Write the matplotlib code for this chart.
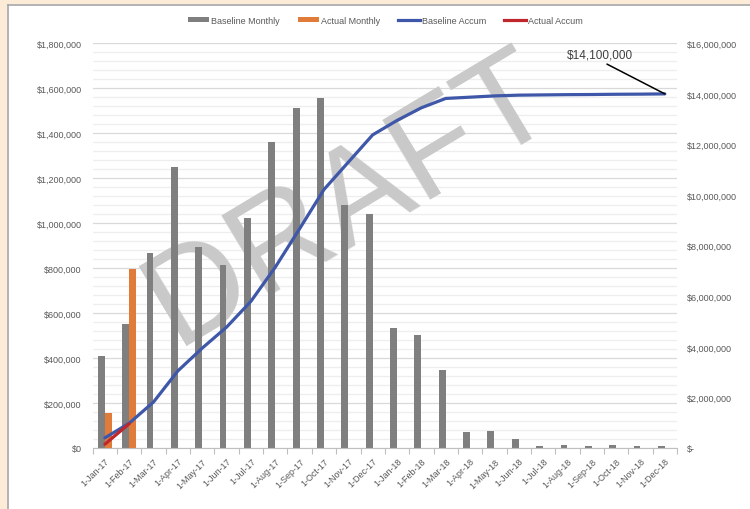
import matplotlib.pyplot as plt
import numpy as np
from matplotlib.patches import Rectangle, Patch
from matplotlib.lines import Line2D
from matplotlib.ticker import FuncFormatter, MultipleLocator

plt.rcParams['font.family'] = ['Liberation Sans', 'DejaVu Sans']

## ======= Data

months = ['1-Jan-17', '1-Feb-17', '1-Mar-17', '1-Apr-17', '1-May-17', '1-Jun-17',
          '1-Jul-17', '1-Aug-17', '1-Sep-17', '1-Oct-17', '1-Nov-17', '1-Dec-17',
          '1-Jan-18', '1-Feb-18', '1-Mar-18', '1-Apr-18', '1-May-18', '1-Jun-18',
          '1-Jul-18', '1-Aug-18', '1-Sep-18', '1-Oct-18', '1-Nov-18', '1-Dec-18']

baseline_monthly = [410000, 550000, 867000, 1250000, 893000, 816000,
                    1025000, 1359000, 1511000, 1557000, 1083000, 1040000,
                    532000, 501000, 345000, 70000, 74000, 39000,
                    7500, 12000, 8000, 12000, 8000, 8000]

actual_monthly = [155000, 795000]

baseline_accum = [400000, 980000, 1820000, 3050000, 3950000, 4780000,
                  5800000, 7150000, 8670000, 10220000, 11300000, 12380000,
                  12950000, 13450000, 13820000, 13870000, 13920000, 13950000,
                  13960000, 13970000, 13975000, 13985000, 13990000, 14000000]

actual_accum = [150000, 960000]

annotation_text = '$14,100,000'

# colours
c_base = '#7f7f7f'
c_actual = '#e07b39'
c_base_line = '#3f57a8'
c_actual_line = '#c0272d'
c_label = '#595959'

fig = plt.figure(figsize=(7.5, 5.1), dpi=100)
fig.patch.set_facecolor('white')

# beige surround + thin border (chart is embedded in a sheet)
beige = '#fbebd7'
fig.patches.append(Rectangle((0, 0), 7 / 750, 1, transform=fig.transFigure,
                             facecolor=beige, edgecolor='none', zorder=0))
fig.patches.append(Rectangle((0, 1 - 5 / 510), 1, 5 / 510, transform=fig.transFigure,
                             facecolor=beige, edgecolor='none', zorder=0))
fig.lines.append(Line2D([7.5 / 750, 7.5 / 750], [0, 1 - 5.5 / 510], transform=fig.transFigure,
                        color='#a6a6a6', lw=1.2))
fig.lines.append(Line2D([7.5 / 750, 1], [1 - 5.5 / 510, 1 - 5.5 / 510], transform=fig.transFigure,
                        color='#a6a6a6', lw=1.2))

ax = fig.add_axes([92.7 / 750, 1 - 449 / 510, 584.3 / 750, 404.7 / 510])
ax2 = ax.twinx()

x = np.arange(len(months))

# bars (left axis)
ax.bar(x - 0.145, baseline_monthly, width=0.28, color=c_base, zorder=2)
ax.bar(x[:len(actual_monthly)] + 0.145, actual_monthly, width=0.28, color=c_actual, zorder=2)

ax.set_xlim(-0.5, len(months) - 0.5)
ax.set_ylim(0, 1800000)
ax.yaxis.set_major_locator(MultipleLocator(200000))
ax.yaxis.set_minor_locator(MultipleLocator(40000))
ax.set_axisbelow(True)
ax.grid(True, which='major', axis='y', color='#d9d9d9', lw=0.9, zorder=0)
ax.grid(True, which='minor', axis='y', color='#eeeeee', lw=0.9, zorder=0)
ax.yaxis.set_major_formatter(FuncFormatter(lambda v, p: '$0' if v == 0 else '${:,.0f}'.format(v)))

ax.set_xticks(x)
ax.set_xticklabels(months, rotation=45, ha='right', va='top', rotation_mode='anchor',
                   fontsize=6.5, color=c_label)
ax.set_xticks(np.arange(len(months) + 1) - 0.5, minor=True)
ax.tick_params(axis='x', which='major', length=0, pad=6)
ax.tick_params(axis='x', which='minor', length=4, color='#bfbfbf', width=0.8)
ax.tick_params(axis='y', which='both', length=0, pad=8, labelsize=6.5, labelcolor=c_label)

for s in ['top', 'left', 'right']:
    ax.spines[s].set_visible(False)
ax.spines['bottom'].set_color('#bfbfbf')
ax.spines['bottom'].set_linewidth(0.8)

# watermark (behind the bars)
ax.text(0.44, 0.615, 'DRAFT', transform=ax.transAxes, rotation=31, fontsize=97,
        color='#c9c9c9', ha='center', va='center', zorder=1.5)

# accumulated lines (right axis)
ax2.plot(x, baseline_accum, color=c_base_line, lw=2.3, solid_capstyle='round', zorder=3)
ax2.plot(x[:len(actual_accum)], actual_accum, color=c_actual_line, lw=2.3,
         solid_capstyle='round', zorder=4)
ax2.set_ylim(0, 16000000)
ax2.yaxis.set_major_locator(MultipleLocator(2000000))
ax2.yaxis.set_major_formatter(FuncFormatter(lambda v, p: '$-' if v == 0 else '${:,.0f}'.format(v)))
ax2.tick_params(axis='y', length=0, pad=7, labelsize=6.5, labelcolor=c_label)
for s in ax2.spines.values():
    s.set_visible(False)

ax2.annotate(annotation_text, xy=(x[-1], baseline_accum[-1]), xytext=(20.35, 15.55e6),
             fontsize=8.5, color='#404040', ha='center', va='center',
             arrowprops=dict(arrowstyle='-', color='black', lw=1.1, relpos=(0.5, 0),
                             shrinkA=1, shrinkB=0))

# legend
handles = [Patch(facecolor=c_base), Patch(facecolor=c_actual),
           Line2D([], [], color=c_base_line, lw=2.3),
           Line2D([], [], color=c_actual_line, lw=2.3)]
labels = ['Baseline Monthly', 'Actual Monthly', 'Baseline Accum', 'Actual Accum']
leg = fig.legend(handles, labels, loc='center', bbox_to_anchor=(385 / 750, 1 - 21 / 510),
                 ncol=4, frameon=False, fontsize=6.5, handlelength=2.4, handleheight=0.55,
                 handletextpad=0.2, columnspacing=2.0)
for t in leg.get_texts():
    t.set_color(c_label)

fig.savefig('out.png', dpi=100)
